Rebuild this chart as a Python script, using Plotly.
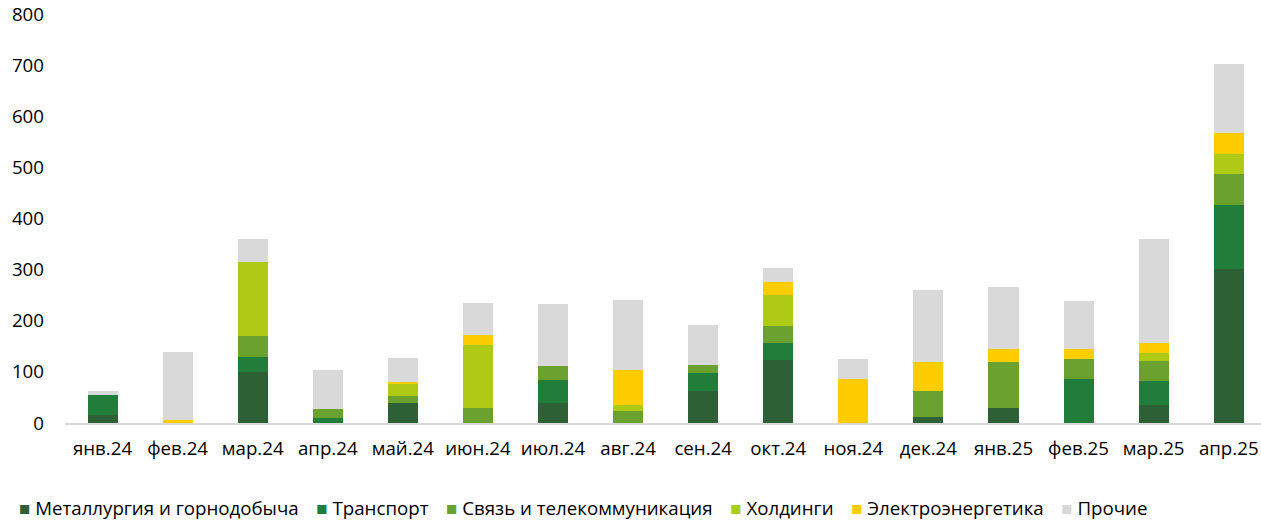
import plotly.graph_objects as go

months = ["янв.24", "фев.24", "мар.24", "апр.24", "май.24", "июн.24", "июл.24", "авг.24",
          "сен.24", "окт.24", "ноя.24", "дек.24", "янв.25", "фев.25", "мар.25", "апр.25"]

metallurgy = [15, 0, 99, 0, 39, 0, 40, 0, 63, 124, 0, 12, 30, 0, 36, 302]
transport = [40, 0, 30, 10, 0, 0, 45, 0, 35, 32, 0, 0, 0, 87, 47, 125]
telecom = [0, 0, 41, 18, 14, 30, 27, 24, 15, 34, 0, 51, 89, 38, 39, 60]
holdings = [0, 0, 144, 0, 25, 123, 0, 12, 0, 60, 0, 0, 0, 0, 14, 40]
energy = [0, 5, 0, 0, 2, 20, 0, 68, 0, 26, 87, 56, 25, 20, 21, 41]
other = [8, 133, 45, 75, 47, 61, 120, 136, 78, 27, 38, 141, 122, 93, 203, 135]

series_names = ["Металлургия и горнодобыча", "Транспорт", "Связь и телекоммуникация",
                "Холдинги", "Электроэнергетика", "Прочие"]
series_values = [metallurgy, transport, telecom, holdings, energy, other]
series_colors = ["#2D6135", "#217E3A", "#6BA12F", "#AFCA15", "#FFCC00", "#D9D9D9"]

FONT = "Open Sans"
FS = 18.7

fig = go.Figure()
for name, vals, color in zip(series_names, series_values, series_colors):
    fig.add_trace(go.Bar(
        x=months, y=vals, name=name,
        marker=dict(color=color, line=dict(width=0)),
        showlegend=False,
    ))

# legend as a single line of text with coloured squares
gap = "&nbsp;&nbsp;&nbsp;&#8201;"
legend_text = gap.join(
    f"<span style='color:{c}'>■</span>&nbsp;{n}"
    for n, c in zip(series_names, series_colors)
)
fig.add_annotation(
    text=legend_text, xref="paper", yref="paper",
    x=-0.0398, y=-0.207, xanchor="left", yanchor="middle", showarrow=False,
    font=dict(family=FONT, size=FS, color="#000000"),
)

fig.update_layout(
    barmode="stack",
    bargap=0.6,
    width=1261, height=520,
    margin=dict(l=65, r=0, t=14, b=97, autoexpand=False),
    plot_bgcolor="white", paper_bgcolor="white",
    font=dict(family=FONT, size=FS, color="#000000"),
    showlegend=False,
    xaxis=dict(showgrid=False, showline=True, linecolor="#D9D9D9", linewidth=2,
               ticks="", tickfont=dict(size=FS), range=[-0.5, 15.43],
               ticklabelstandoff=8, ticklabeloverflow="allow"),
    yaxis=dict(range=[0, 800], dtick=100, showgrid=False, zeroline=False,
               showline=False, ticks="", tickfont=dict(size=FS),
               ticklabelstandoff=20, ticklabeloverflow="allow"),
)

# the page's default 8px body margin would push the 1261x520 figure off the window
fig.write_html("out.html", config={"displayModeBar": False},
               post_script="document.body.style.margin='0';")
